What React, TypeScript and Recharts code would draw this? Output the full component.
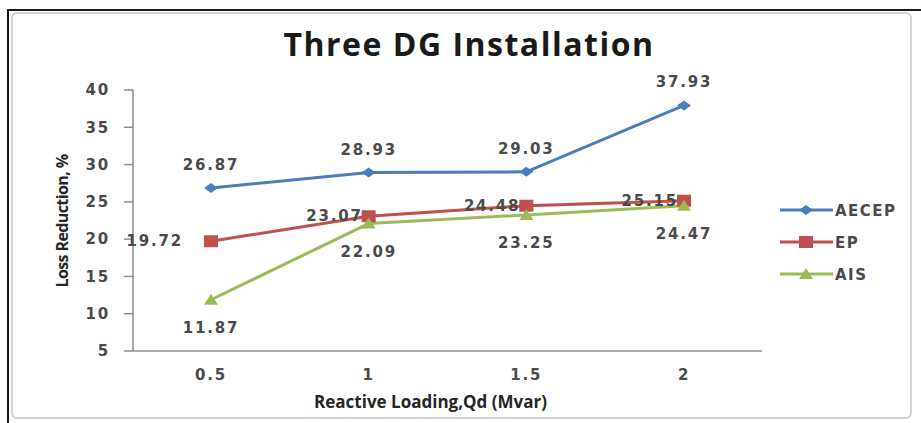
import React from 'react';
import { LineChart, Line, XAxis, YAxis, Legend, LabelList } from 'recharts';

const categories = ['0.5', '1', '1.5', '2'];
const aecepValues = [26.87, 28.93, 29.03, 37.93];
const epValues = [19.72, 23.07, 24.48, 25.15];
const aisValues = [11.87, 22.09, 23.25, 24.47];
const yTicks = [5, 10, 15, 20, 25, 30, 35, 40];

const data = categories.map((c, i) => ({
  q: c,
  AECEP: aecepValues[i],
  EP: epValues[i],
  AIS: aisValues[i],
}));

const BLUE = '#4a7ebb';
const RED = '#c0504d';
const GREEN = '#9bbb59';
const TEXT = '#4a4a4a';
const LABEL_FONT = { fontFamily: 'DejaVu Sans', fontWeight: 700, fontSize: 15, letterSpacing: 1.8, fill: TEXT };

const Diamond = (props: any) => {
  const { cx, cy, fill } = props;
  if (cx == null || cy == null) return null;
  return <polygon points={`${cx},${cy - 5} ${cx + 7},${cy} ${cx},${cy + 5} ${cx - 7},${cy}`} fill={fill || BLUE} />;
};
const Square = (props: any) => {
  const { cx, cy, fill } = props;
  if (cx == null || cy == null) return null;
  return <rect x={cx - 7} y={cy - 6} width={14} height={12} fill={fill || RED} />;
};
const Triangle = (props: any) => {
  const { cx, cy, fill } = props;
  if (cx == null || cy == null) return null;
  return <polygon points={`${cx},${cy - 6} ${cx + 7},${cy + 5} ${cx - 7},${cy + 5}`} fill={fill || GREEN} />;
};

const TopLabel = (props: any) => {
  const { x, y, value } = props;
  return (
    <text x={x} y={y - 18} textAnchor="middle" {...LABEL_FONT}>
      {value}
    </text>
  );
};
const LeftLabel = (props: any) => {
  const { x, y, value, index } = props;
  const gap = index === 0 ? 28 : 6;
  return (
    <text x={x - gap} y={y + 5} textAnchor="end" {...LABEL_FONT}>
      {value}
    </text>
  );
};
const BottomLabel = (props: any) => {
  const { x, y, value } = props;
  return (
    <text x={x} y={y + 33} textAnchor="middle" {...LABEL_FONT}>
      {value}
    </text>
  );
};

const series = [
  { key: 'AECEP', color: BLUE, Marker: Diamond },
  { key: 'EP', color: RED, Marker: Square },
  { key: 'AIS', color: GREEN, Marker: Triangle },
];

const LegendContent = () => (
  <svg width={140} height={90}>
    {series.map((s, i) => {
      const y = 12 + i * 32;
      const M = s.Marker;
      return (
        <g key={s.key}>
          <line x1={2} x2={55} y1={y} y2={y} stroke={s.color} strokeWidth={3} />
          <M cx={28} cy={y} fill={s.color} />
          <text x={57} y={y + 6} fontFamily="DejaVu Sans" fontWeight={700} fontSize={15} letterSpacing={1.5} fill={TEXT}>
            {s.key}
          </text>
        </g>
      );
    })}
  </svg>
);

const XTitle = (props: any) => {
  const vb = props.viewBox || {};
  const cx = (vb.x ?? 133) + (vb.width ?? 629) / 2 - 17;
  return (
    <text x={cx} y={408} textAnchor="middle" fontFamily="Open Sans" fontWeight={700} fontSize={17} fill="#262626">
      Reactive Loading,Qd  (Mvar)
    </text>
  );
};
const YTitle = () => (
  <text
    x={0}
    y={0}
    transform="translate(68,221) rotate(-90)"
    textAnchor="middle"
    fontFamily="Open Sans"
    fontWeight={700}
    fontSize={16}
    letterSpacing={-0.6}
    fill="#262626"
  >
    Loss Reduction, %
  </text>
);

export default function App() {
  return (
    <div style={{ position: 'absolute', left: 0, top: 0, width: 921, height: 423, background: '#fff', overflow: 'hidden' }}>
      <div style={{ position: 'absolute', left: 8, top: 9, width: 913, height: 2, background: '#1a1a1a' }} />
      <div style={{ position: 'absolute', left: 7, top: 9, width: 2, height: 414, background: '#1a1a1a' }} />
      <div
        style={{
          position: 'absolute',
          left: 11,
          top: 12,
          width: 897,
          height: 403,
          border: '2px solid #cdd4d4',
          borderRadius: 6,
        }}
      />
      <div
        style={{
          position: 'absolute',
          left: 0,
          top: 23,
          width: 938,
          textAlign: 'center',
          fontFamily: 'Open Sans',
          fontWeight: 700,
          fontSize: 32,
          letterSpacing: 1.5,
          color: '#1a1a1a',
          lineHeight: '42px',
        }}
      >
        Three DG Installation
      </div>
      <div style={{ position: 'absolute', left: 0, top: 0 }}>
        <LineChart width={921} height={423} data={data} margin={{ top: 90, right: 159, bottom: 42, left: 73 }}>
          <XAxis
            dataKey="q"
            height={30}
            padding={{ left: 78, right: 78 }}
            axisLine={{ stroke: '#8c8c8c', strokeWidth: 1.5 }}
            tickLine={false}
            tickSize={0}
            tickMargin={18}
            tick={LABEL_FONT}
            label={<XTitle />}
          />
          <YAxis
            width={60}
            domain={[5, 40]}
            ticks={yTicks}
            interval={0}
            axisLine={{ stroke: '#8c8c8c', strokeWidth: 1.5 }}
            tickLine={{ stroke: '#8c8c8c', strokeWidth: 1.5 }}
            tickSize={9}
            tickMargin={14}
            tick={LABEL_FONT}
            label={<YTitle />}
          />
          <Legend
            layout="vertical"
            align="center"
            verticalAlign="middle"
            content={<LegendContent />}
            wrapperStyle={{ left: 778, top: 198, width: 140, height: 90 }}
          />
          <Line dataKey="AECEP" stroke={BLUE} strokeWidth={3} dot={<Diamond fill={BLUE} />} activeDot={false} isAnimationActive={false}>
            <LabelList dataKey="AECEP" content={<TopLabel />} />
          </Line>
          <Line dataKey="EP" stroke={RED} strokeWidth={3} dot={<Square fill={RED} />} activeDot={false} isAnimationActive={false}>
            <LabelList dataKey="EP" content={<LeftLabel />} />
          </Line>
          <Line dataKey="AIS" stroke={GREEN} strokeWidth={3} dot={<Triangle fill={GREEN} />} activeDot={false} isAnimationActive={false}>
            <LabelList dataKey="AIS" content={<BottomLabel />} />
          </Line>
        </LineChart>
      </div>
    </div>
  );
}
